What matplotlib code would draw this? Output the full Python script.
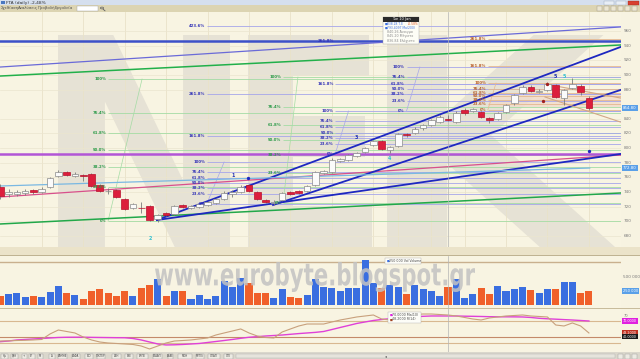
import numpy as np
import matplotlib
matplotlib.use("Agg")
import matplotlib.pyplot as plt
from matplotlib.patches import Rectangle, PathPatch, Circle
from matplotlib.lines import Line2D
from matplotlib.textpath import TextPath
from matplotlib.font_manager import FontProperties
from matplotlib.transforms import Affine2D, blended_transform_factory

W, H = 640, 359

# ---- daily candles ----
opens = [746.9, 738.0, 737.3, 738.7, 742.8, 740.1, 746.9, 761.9, 767.4, 761.9,
         763.3, 764.6, 749.6, 740.8, 742.8, 730.5, 718.2, 718.9, 721.0, 703.2,
         711.4, 710.0, 722.3, 718.9, 719.6, 722.3, 725.0, 730.5, 738.0, 740.1,
         749.6, 740.1, 729.2, 725.7, 729.2, 740.1, 740.8, 741.4, 749.6, 766.7,
         767.4, 783.1, 783.8, 789.3, 794.7, 804.3, 809.7, 797.5, 802.9, 819.3,
         820.7, 827.5, 831.6, 835.7, 840.26, 835.7, 852.1, 851.4, 849.4, 841.2,
         839.8, 849.4, 861.6, 875.3, 883.5, 877.3, 879.4, 886.2, 868.5, 882.1,
         884.9, 868.5]
highs = [751.0, 744.2, 742.8, 744.2, 744.2, 746.9, 760.6, 770.1, 768.8, 767.4,
         764.6, 766.0, 751.0, 745.5, 744.2, 731.9, 725.0, 726.4, 722.3, 710.0,
         712.7, 722.3, 723.7, 722.3, 725.0, 727.8, 731.9, 741.4, 742.8, 749.6,
         751.0, 741.4, 730.5, 729.2, 740.1, 741.4, 742.8, 749.6, 768.8, 770.1,
         786.5, 786.5, 792.0, 794.7, 801.5, 811.1, 811.1, 802.9, 820.7, 820.7,
         828.9, 833.0, 839.8, 845.2, 845.20, 850.7, 854.8, 854.8, 850.7, 842.5,
         849.4, 860.3, 873.9, 886.2, 886.2, 880.8, 890.3, 887.6, 880.8, 895.8,
         887.6, 871.2]
lows = [730.5, 733.3, 734.6, 736.0, 737.3, 738.7, 745.5, 760.6, 761.9, 760.6,
        755.1, 746.9, 740.1, 737.3, 731.9, 715.5, 716.9, 711.4, 700.5, 699.1,
        707.3, 708.6, 718.2, 716.9, 718.2, 721.0, 723.7, 729.2, 733.3, 738.7,
        740.1, 729.2, 725.0, 722.3, 727.8, 736.0, 737.3, 740.1, 748.3, 764.6,
        766.0, 781.1, 782.4, 787.9, 793.4, 802.9, 797.5, 793.4, 801.5, 815.2,
        819.3, 824.8, 830.2, 834.3, 836.84, 834.3, 845.2, 849.4, 841.2, 834.3,
        838.4, 848.0, 858.9, 873.9, 876.7, 875.3, 878.0, 868.5, 858.9, 880.8,
        872.6, 852.1]
closes = [734.6, 739.4, 740.1, 741.4, 740.1, 744.2, 759.2, 767.4, 763.3, 764.6,
          761.3, 748.3, 741.4, 742.1, 733.3, 716.9, 723.7, 717.6, 701.8, 708.6,
          708.6, 721.0, 719.6, 720.3, 723.7, 726.4, 730.5, 738.7, 739.4, 746.9,
          741.4, 730.5, 726.4, 727.1, 738.7, 738.0, 738.7, 748.3, 767.4, 768.1,
          783.8, 784.5, 790.6, 793.4, 800.2, 809.7, 798.8, 801.5, 819.3, 817.3,
          826.1, 831.6, 838.4, 843.2, 838.28, 848.0, 848.0, 852.8, 842.5, 838.4,
          848.0, 858.9, 872.6, 883.5, 878.0, 878.7, 887.6, 869.9, 879.4, 887.6,
          876.5, 854.8]

# volume in thousands, B = blue bar, O = orange bar
volume_k = [161, 196, 214, 143, 161, 143, 232, 339, 214, 179,
            107, 250, 286, 214, 161, 250, 161, 304, 357, 464,
            161, 250, 250, 107, 179, 107, 161, 429, 321, 482,
            393, 214, 214, 125, 286, 143, 125, 179, 464, 316,
            309, 250, 304, 298, 804, 398, 298, 352, 321, 202,
            352, 286, 250, 166, 321, 459, 125, 191, 309, 191,
            345, 250, 291, 321, 268, 214, 291, 291, 411, 411,
            220, 250]
vol_dir = list("OBBBOBBBOB" "OOOOOOBOOB" "OBOBBBBBBB" "OOOBBOOBBB"
               "BBBBBBOBBO" "BBBBOBBBOO" "BBBBOBBOBB" "OO")

# oscillator panel
rsi = [33.6, 34.0, 34.5, 34.9, 35.5, 36.4, 46.4, 53.6, 50.9, 48.2,
       40.9, 35.5, 31.8, 30.0, 29.1, 28.2, 27.3, 24.5, 19.1, 24.5,
       30.0, 33.6, 34.5, 35.5, 37.3, 39.1, 44.5, 48.2, 51.8, 55.5,
       48.2, 42.7, 40.0, 39.1, 50.0, 55.5, 60.9, 64.5, 64.5, 64.5,
       68.2, 71.8, 74.5, 77.3, 79.1, 80.9, 73.6, 71.8, 75.5, 79.1,
       81.8, 82.7, 82.7, 81.8, 80.9, 79.1, 76.4, 73.6, 71.8, 75.5,
       77.3, 79.1, 80.0, 80.9, 79.1, 78.2, 77.3, 62.7, 60.9, 66.4,
       60.9, 48.2]
rsi_ma = [32.4, 33.6, 35.5, 36.4, 37.3, 38.2, 39.1, 40.0, 40.4, 40.5,
          40.5, 40.2, 40.0, 39.8, 39.6, 39.5, 38.2, 35.5, 31.8, 28.2,
          26.4, 26.7, 27.3, 28.2, 29.1, 30.9, 32.7, 34.5, 36.4, 38.5,
          40.4, 41.5, 42.7, 43.6, 44.5, 45.8, 47.1, 48.2, 49.3, 50.9,
          54.5, 58.2, 61.8, 65.5, 68.2, 70.9, 72.7, 74.2, 75.5, 76.7,
          77.8, 78.5, 79.1, 79.1, 79.1, 79.1, 78.7, 78.5, 78.2, 77.8,
          77.6, 77.6, 77.5, 77.3, 76.4, 74.9, 74.0, 73.3, 72.5, 71.8,
          70.9, 70.0]

date_ticks = [5, 10, 15, 20, 25, 30, 35, 40, 45, 48, 52, 56, 61, 66, 71]
date_labels = ["30", "Nov'17", "13", "20", "27", "Dec'17", "11", "18", "27",
               "2018", "8", "15", "22", "29", "Feb"]
price_ticks = [960, 940, 920, 900, 880, 840, 820, 800, 780, 760, 740, 720, 700, 680]

# trend lines drawn on the chart: (index, price) pairs
full_lines = [  # extend across the whole panel
    ((0, 910.8), (74.8, 965.5), "#6a6ad8", 0.9),
    ((0, 898.5), (74.8, 940.9), "#22b04a", 1.1),
    ((0, 733.3), (74.8, 790.6), "#d8508c", 0.9),
    ((0, 696.4), (74.8, 738.7), "#22a84a", 1.1),
]
seg_lines = [
    ((18.9, 701.8), (74.8, 938.1), "#1e28c0", 1.3),
    ((32.9, 722.3), (74.8, 879.4), "#1e28c0", 1.3),
    ((18.9, 701.8), (74.8, 792.0), "#1e28c0", 1.3),
    ((0, 748.3), (71.1, 772.8), "#7ab8e2", 0.9),
    ((65.7, 887.6), (74.8, 868.5), "#d2a886", 0.8),
    ((65.7, 869.9), (74.8, 835.7), "#d2a886", 0.8),
]
h_lines = [(946.3, "#3c50c8", 1.8), (792.0, "#b255d6", 1.8)]

# fibonacci tools: start index, 0% price, 100% price, levels, colour, diagonal end index
fib_sets = [
    (24.9, 723.7, 781.1, [0, 23.6, 38.2, 50, 61.8, 76.4, 100, 161.8, 261.8, 423.6], "blue", 27.0),
    (13.0, 700.5, 894.4, [0, 23.6, 38.2, 50, 61.8, 76.4, 100], "green", 17.1),
    (34.1, 725.0, 897.2, [0, 23.6, 38.2, 50, 61.8, 76.4, 100], "green", 35.9),
    (40.4, 792.0, 850.7, [0, 23.6, 38.2, 50, 61.8, 76.4, 100, 161.8, 261.8], "blue", 42.0),
    (49.0, 850.7, 910.8, [0, 23.6, 38.2, 50, 61.8, 76.4, 100], "blue", 50.6),
    (58.8, 852.1, 889.0, [0, 23.6, 38.2, 50, 61.8, 76.4, 100, 161.8, 261.8], "brown", 59.8),
]
fib_line_col = {"blue": "#a6a6ea", "green": "#a4dca4", "brown": "#e4b890"}
fib_text_col = {"blue": "#3434b8", "green": "#2a9a48", "brown": "#b8602c"}

wave_labels = [(18.1, 677.2, "2", "#30c0d0"), (28.1, 763.3, "1", "#2030b0"),
               (43.0, 815.2, "3", "#2030b0"), (47.0, 785.2, "4", "#30c0d0"),
               (66.9, 898.5, "5", "#2030b0"), (68.0, 898.5, "5", "#30c0d0")]
dots = [(29.9, 759.2, "#1e28c0"), (71.0, 796.1, "#1e28c0"), (66.0, 887.6, "#a02020"), (65.5, 864.0, "#a02020")]

cursor_idx = 54
cursor_date = "Tue 10 Jan"

# ---- figure ----
fig = plt.figure(figsize=(W / 100, H / 100), dpi=100)
fig.patch.set_facecolor("#f7f3e1")


def fx(x):
    return x / W


def fy(y):
    return 1 - y / H


def box(x0, y0, x1, y1):
    return [x0 / W, 1 - y1 / H, (x1 - x0) / W, (y1 - y0) / H]


def frect(x0, y0, x1, y1, fc, ec="none", lw=0.0, z=0):
    fig.add_artist(Rectangle((fx(x0), fy(y1)), (x1 - x0) / W, (y1 - y0) / H,
                             transform=fig.transFigure, fc=fc, ec=ec, lw=lw, zorder=z))


def ftext(x, y, s, size=3, color="#444444", **kw):
    fig.text(fx(x), fy(y), s, fontsize=size, color=color, va="center", **kw)


def watermark(a, text, px_box, panel, color, alpha=1.0, z=0.2):
    # scale a bold text outline into a pixel box of the panel
    x0, y0, x1, y1 = px_box
    px0, py0, px1, py1 = panel
    fp = FontProperties(family="DejaVu Sans", weight="bold")
    tp = TextPath((0, 0), text, size=1, prop=fp)
    bb = tp.get_extents()
    ax0, ax1 = (x0 - px0) / (px1 - px0), (x1 - px0) / (px1 - px0)
    ay0, ay1 = (py1 - y1) / (py1 - py0), (py1 - y0) / (py1 - py0)
    tr = (Affine2D().translate(-bb.x0, -bb.y0)
          .scale((ax1 - ax0) / bb.width, (ay1 - ay0) / bb.height)
          .translate(ax0, ay0))
    a.add_patch(PathPatch(tr.transform_path(tp), transform=a.transAxes,
                          fc=color, ec="none", alpha=alpha, zorder=z))


P_PRICE = (0, 12, 621, 247)
P_VOL = (0, 256, 621, 308)
P_IND = (0, 309, 621, 352)
ax = fig.add_axes(box(*P_PRICE))
axv = fig.add_axes(box(*P_VOL))
axi = fig.add_axes(box(*P_IND))
for a in (ax, axv, axi):
    a.set_facecolor("#f8f4e2")
    a.set_xlim(-0.036, 74.87)
    a.set_xticks([])
    a.set_yticks([])
    for s in a.spines.values():
        s.set_visible(False)

idx = np.arange(len(closes))
o = np.array(opens)
c = np.array(closes)
hi = np.array(highs)
lo = np.array(lows)

# ---- price panel ----
ax.set_ylim(664.95, 985.96)
watermark(ax, "N", (58, 35, 230, 247), P_PRICE, "#e6e2d5")
watermark(ax, "E", (248, 35, 372, 247), P_PRICE, "#e6e2d5")
watermark(ax, "K", (387, 35, 615, 247), P_PRICE, "#e6e2d5")
for t in date_ticks:
    ax.axvline(t, color="#e9e2c8", lw=0.6, zorder=0.5)
for p in price_ticks:
    ax.axhline(p, color="#ebe5cf", lw=0.5, zorder=0.5)

ax.add_patch(Rectangle((58.8, 856.2), 16.5, 16.4, fc="#f1dccb", ec="none", alpha=0.8, zorder=1))

for start, p0, p100, levels, kind, dend in fib_sets:
    prices = [p0 + lv / 100 * (p100 - p0) for lv in levels]
    ax.hlines(prices, start, 74.87, color=fib_line_col[kind], lw=0.6, zorder=2)
    ax.plot([start, dend], [p0, p100], color=fib_line_col[kind], lw=0.5, zorder=2)
    for lv, p in zip(levels, prices):
        lab = "0%" if lv == 0 else ("100%" if lv == 100 else f"{lv:.1f}%")
        ax.text(start - 0.2, p, lab, fontsize=2.8, color=fib_text_col[kind],
                ha="right", va="center", fontweight="bold", zorder=8)

for y, col, lw in h_lines:
    ax.axhline(y, color=col, lw=lw, zorder=3)
for p1, p2, col, lw in full_lines:
    ax.axline(p1, p2, color=col, lw=lw, zorder=3)
for p1, p2, col, lw in seg_lines:
    ax.plot([p1[0], p2[0]], [p1[1], p2[1]], color=col, lw=lw, zorder=3)

up = c >= o
body_lo = np.minimum(o, c)
body_h = np.maximum(np.abs(c - o), 0.9)
ax.vlines(idx, lo, hi, color="#7a7a7a", lw=0.6, zorder=6)
ax.bar(idx[up], body_h[up], bottom=body_lo[up], width=0.8, color="#fbfbfb",
       edgecolor="#8a8a8a", lw=0.5, zorder=7)
ax.bar(idx[~up], body_h[~up], bottom=body_lo[~up], width=0.8, color="#dc1e3c",
       edgecolor="#b8102c", lw=0.5, zorder=7)

for xi, yi, s, col in wave_labels:
    ax.text(xi, yi, s, fontsize=3.4, color=col, ha="center", va="center", fontweight="bold", zorder=9)
for xi, yi, col in dots:
    ax.plot(xi, yi, "o", ms=1.4, color=col, zorder=9)
ax.axvline(cursor_idx, color="#b4b4b4", lw=0.5, zorder=5)

trp = blended_transform_factory(ax.transAxes, ax.transData)
for p in price_ticks:
    ax.text(1.004, p, f"{p}", transform=trp, fontsize=3, color="#7a7a7a",
            ha="left", va="center", clip_on=False)
for val in (c[-1], seg_lines[3][1][1]):
    ax.text(1.003, val, f"{val:.2f}", transform=trp, fontsize=2.8, color="white",
            ha="left", va="center", clip_on=False,
            bbox=dict(boxstyle="square,pad=0.3", fc="#5aa0e8", ec="none"))

# tooltip for the cursor bar
k = cursor_idx
chg = (c[k] / c[k - 1] - 1) * 100
frect(383, 17, 419, 44, "#fdfdf6", ec="#a0a0a0", lw=0.3, z=10)
frect(383, 17, 419, 21.5, "#2a2a2a", z=11)
ftext(401, 19.3, cursor_date, 2.6, "white", ha="center", zorder=12)
ftext(384.3, 24, "■", 2.2, "#3a6ee0", zorder=12)
ftext(387, 24, f"{c[k]:.2f} Τ.Ε", 2.2, "#3a6ee0", zorder=12)
ftext(418.7, 24, f"{chg:.2f}%", 2.2, "#e05a20", ha="right", zorder=12)
ftext(384.3, 28.3, "■", 2.2, "#3a6ee0", zorder=12)
ftext(387, 28.3, "793.4097 Ma(200)", 2.2, "#3a6ee0", zorder=12)
ftext(387, 32.4, f"{o[k]:.2f} Άνοιγμα", 2.3, "#8a8a8a", zorder=12)
ftext(387, 36.5, f"{hi[k]:.2f} Μέγιστο", 2.3, "#8a8a8a", zorder=12)
ftext(387, 40.6, f"{lo[k]:.2f} Ελάχιστο", 2.3, "#8a8a8a", zorder=12)

# ---- date band ----
frect(0, 247, 640, 255.5, "#ebe3c9", z=1)
dtr = blended_transform_factory(ax.transData, ax.transAxes)
for t, lab in zip(date_ticks, date_labels):
    ax.text(t, -0.018, lab, transform=dtr, fontsize=3, color="#6a6a6a",
            ha="center", va="center", clip_on=False, zorder=12)
ax.text(cursor_idx, -0.018, cursor_date, transform=dtr, fontsize=2.6, color="white",
        ha="center", va="center", clip_on=False, zorder=13,
        bbox=dict(boxstyle="square,pad=0.35", fc="#2a2a2a", ec="none"))

# ---- volume panel ----
axv.set_ylim(-53.6, 875)
vcol = ["#3a6ee0" if d == "B" else "#f0602a" for d in vol_dir]
axv.bar(idx, volume_k, width=0.85, color=vcol, edgecolor="none", zorder=3)
axv.axhline(768, color="#c9b08e", lw=1.0, zorder=2)
axv.axvline(cursor_idx, color="#b4b4b4", lw=0.5, zorder=4)
watermark(axv, "www.eurobyte.blogspot.gr", (155, 262, 475, 292), P_VOL, "#c2c2c2", alpha=0.85, z=5)
vtr = blended_transform_factory(axv.transAxes, axv.transData)
axv.text(1.004, 500, "500 000", transform=vtr, fontsize=3, color="#7a7a7a",
         ha="left", va="center", clip_on=False)
axv.text(1.003, volume_k[-1], f"{volume_k[-1] * 1000:,.0f}".replace(",", " "), transform=vtr,
         fontsize=2.6, color="white", ha="left", va="center", clip_on=False,
         bbox=dict(boxstyle="square,pad=0.3", fc="#5aa0e8", ec="none"))
frect(385, 257.5, 421, 263.5, "#fdfdf8", ec="#b0b0b0", lw=0.3, z=10)
ftext(386.3, 260.5, "■", 2.2, "#3a6ee0", zorder=11)
ftext(389, 260.5, f"{volume_k[-1] * 1000:,.0f} Vol Volume".replace(",", " "), 2.3, "#4a4a4a", zorder=11)

# ---- oscillator panel ----
axi.set_ylim(13.6, 91.8)
for lvl, col in ((70, "#d8b890"), (40, "#c48a6a"), (30, "#d8b890")):
    axi.axhline(lvl, color=col, lw=0.8, zorder=1)
axi.plot(idx, rsi_ma, color="#e040d8", lw=1.0, zorder=3)
axi.plot(idx, rsi, color="#c8a07c", lw=0.8, zorder=3)
axi.axvline(cursor_idx, color="#b4b4b4", lw=0.5, zorder=4)
itr = blended_transform_factory(axi.transAxes, axi.transData)
axi.text(1.004, 78.5, "70", transform=itr, fontsize=2.6, color="#7a7a7a",
         ha="left", va="center", clip_on=False)
for val, txt, col in ((rsi_ma[-1], f"{rsi_ma[-1]:.4f}", "#e020e0"),
                      (rsi[-1], f"{rsi[-1]:.4f}", "#c03020"),
                      (41.5, "40.0000", "#1a1a1a")):
    axi.text(1.003, val, txt, transform=itr, fontsize=2.4, color="white", ha="left",
             va="center", clip_on=False, bbox=dict(boxstyle="square,pad=0.25", fc=col, ec="none"))
frect(388, 312, 421, 322.5, "#fdfdf8", ec="#b0b0b0", lw=0.3, z=10)
ftext(389.3, 314.8, "■", 2.2, "#e020e0", zorder=11)
ftext(392, 314.8, f"{rsi_ma[-1]:.4f} Ma(10)", 2.3, "#4a4a4a", zorder=11)
ftext(389.3, 319.5, "■", 2.2, "#a04020", zorder=11)
ftext(392, 319.5, f"{rsi[-1]:.4f} R(14)", 2.3, "#4a4a4a", zorder=11)

# ---- separators ----
for y, col in ((12, "#c8bc9c"), (255.5, "#bfb392"), (308.5, "#c8bc9c"), (352, "#b0a888")):
    frect(0, y - 0.4, 640, y + 0.4, col, z=2)

# ---- window chrome ----
frect(0, 0, 640, 5, "#d5dfee", z=3)
frect(1, 0.8, 4.5, 4.2, "#4a78c0", z=4)
ftext(6, 2.6, f"FTA (daily) {(c[-1] / c[-2] - 1) * 100:.2f}%".replace(".", ","), 3.2, "#303030", zorder=5)
frect(604, 0.6, 614, 4.6, "#e8eef6", ec="#9aa8bc", lw=0.3, z=4)
frect(616, 0.6, 626, 4.6, "#e8eef6", ec="#9aa8bc", lw=0.3, z=4)
frect(628, 0.6, 639, 4.6, "#d84030", ec="#a03020", lw=0.3, z=4)
frect(0, 5, 640, 12, "#dcd4b2", z=3)
for x, s in ((1, "Σχεδίαση"), (18, "Αναλύσεις"), (38, "Προβολή"), (55, "Εργαλεία")):
    ftext(x, 8.5, s, 2.8, "#505050", zorder=5)
frect(77, 6.2, 98, 10.8, "white", ec="#a0a0a0", lw=0.3, z=4)
# magnifier icon next to the search box
fig.add_artist(Circle((fx(102), fy(8)), 1.6 / W, transform=fig.transFigure,
                      fc="none", ec="#606060", lw=0.5, zorder=5))
fig.add_artist(Line2D([fx(103.2), fx(105)], [fy(9.3), fy(10.8)], transform=fig.transFigure,
                      color="#606060", lw=0.6, zorder=5))
for x in (597, 604, 611, 618, 625, 632):
    frect(x, 6.5, x + 5, 10.5, "#ece6d0", ec="#9a9484", lw=0.3, z=4)

# ---- bottom toolbar ----
frect(0, 352.4, 640, 359, "#dad7cc", z=3)
buttons = [(0, 8, "Ημ"), (10, 18, "Εβδ"), (21, 27, "+"), (28, 35, "ΕΓ"), (37, 43, "Μ"),
           (48, 55, "Δ"), (57, 67, "ΑΔΜΗΕ"), (71, 80, "ΑΛΦΑ"), (84, 93, "ΒΙΟ"),
           (96, 105, "ΓΕΚΤΕΡ"), (111, 121, "ΔΕΗ"), (124, 133, "ΕΕΕ"), (136, 148, "ΕΛΠΕ"),
           (152, 162, "ΕΥΔΑΠ"), (167, 173, "ΕΧΑΕ"), (177, 192, "ΜΟΗ"), (195, 204, "ΜΥΤΙΛ"),
           (207, 220, "ΟΠΑΠ"), (223, 233, "ΟΤΕ")]
for x0, x1, s in buttons:
    frect(x0 + 0.5, 353.5, x1, 358.5, "#eceae2", ec="#9a9a9a", lw=0.3, z=4)
    ftext((x0 + x1) / 2 + 0.2, 356, s, 1.9, "#404040", ha="center", zorder=5)
frect(236, 354, 615, 358, "#e6e4dc", ec="#b0b0b0", lw=0.3, z=4)
ftext(385, 356, "◂", 2.6, "#505050", zorder=5)
for x in (618, 625, 632):
    frect(x, 353.5, x + 5, 358.5, "#eceae2", ec="#9a9a9a", lw=0.3, z=4)

fig.savefig("out.png", dpi=100, facecolor=fig.get_facecolor())
